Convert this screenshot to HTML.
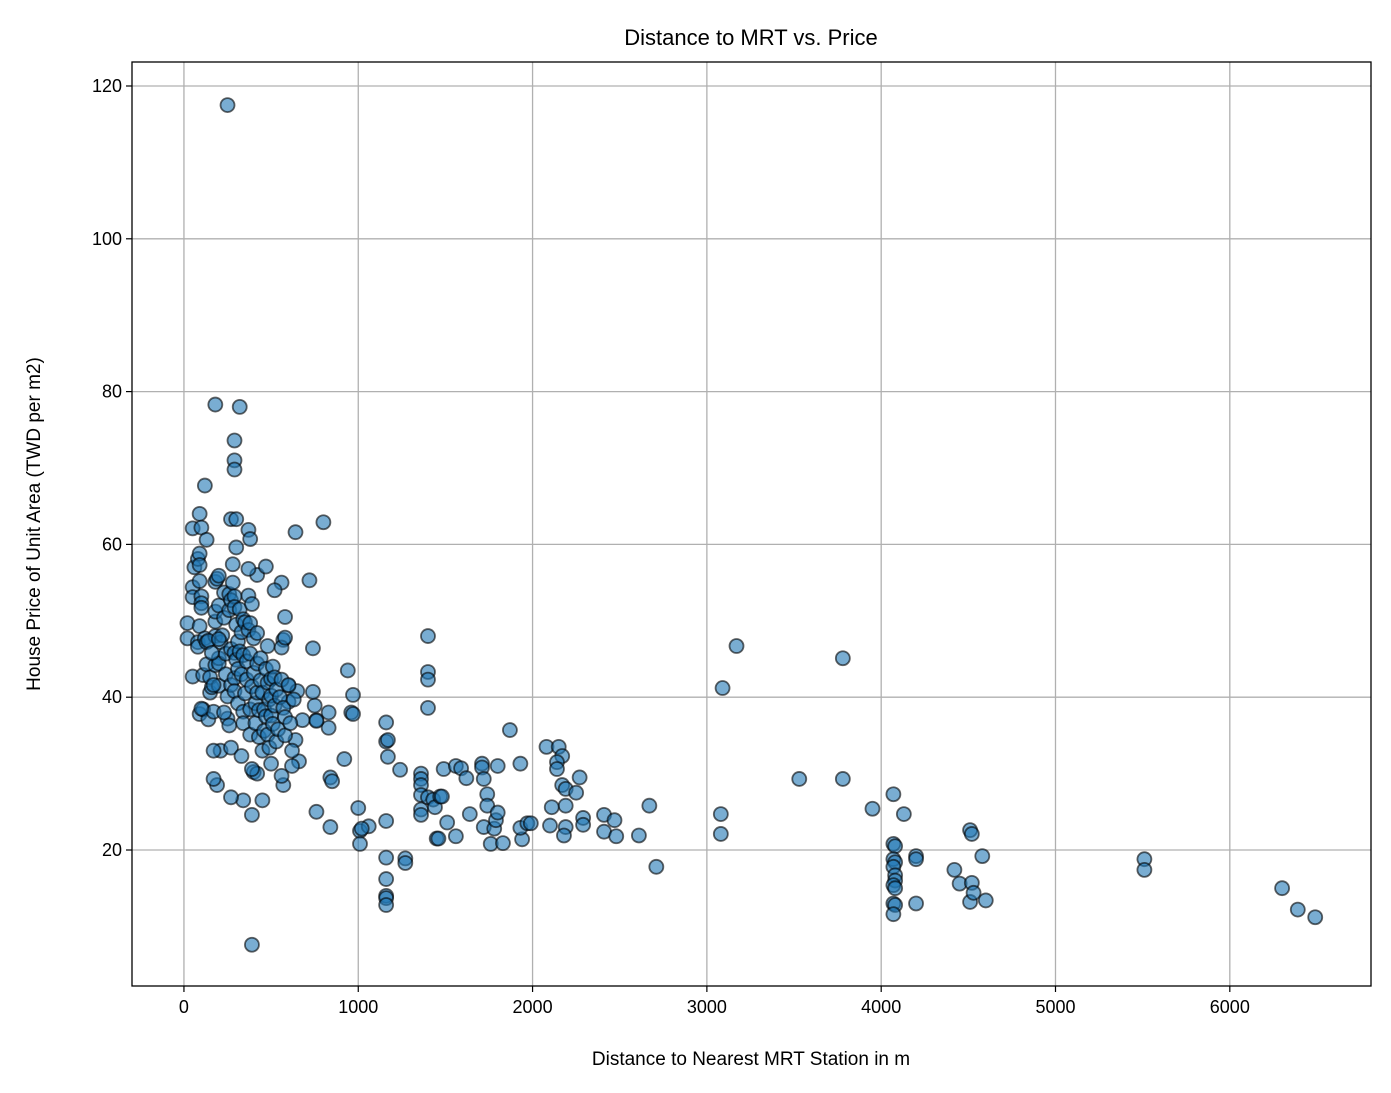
<!DOCTYPE html>
<html><head><meta charset="utf-8"><style>
body{margin:0;background:#fff}
svg{display:block;font-family:"Liberation Sans","DejaVu Sans",sans-serif}
</style></head><body>
<svg id="chart" width="1391" height="1093">
<rect width="1391" height="1093" fill="#fff"/>
<g id="grid"></g>
<g id="pts"></g>
<rect x="132" y="62" width="1239" height="924" fill="none" stroke="#000" stroke-width="1.3"/>
<g id="ticks"></g>
<text x="751" y="45" text-anchor="middle" font-size="22">Distance to MRT vs. Price</text>
<text x="751" y="1065" text-anchor="middle" font-size="19">Distance to Nearest MRT Station in m</text>
<text x="40" y="524" text-anchor="middle" font-size="19" transform="rotate(-90 40 524)">House Price of Unit Area (TWD per m2)</text>
</svg>
<script>
const xTicks=[0,1000,2000,3000,4000,5000,6000];
const yTicks=[20,40,60,80,100,120];
const distances=[250,390,180,320,290,290,290,120,800,640,270,300,90,50,100,370,380,300,130,420,470,560,520,720,580,570,740,1400,1400,1400,1400,940,970,960,970,3170,3780,3090,1870,2080,2150,2170,2140,2140,2170,2190,2270,2250,2190,2110,2190,2180,2100,2290,2290,2410,2470,2410,2480,2610,2670,2710,3080,3080,3530,3780,3950,4070,4130,4070,4080,4070,4080,4070,4080,4080,4070,4080,4070,4080,4070,4200,4200,4200,4420,4450,4510,4520,4520,4510,4530,4580,4600,5510,5510,6300,6390,6490,
1160,1160,1170,1170,1160,1160,1160,1160,1160,1160,1000,1010,1010,1060,1020,1240,1270,1270,1360,1360,1360,1360,1360,1360,1400,1430,1450,1460,1440,1470,1480,1490,1510,1560,1560,1590,1620,1640,1710,1710,1720,1720,1740,1740,1760,1780,1790,1800,1800,1830,1930,1940,1930,1970,1990,830,830,760,760,750,740,760,840,850,840,920,680,660,640,620,620,600,600,650,560,580,570,560,450,390,340,270,190,170,210,170,270,330,400,420,390,450,500,
20,20,50,50,50,60,80,90,90,90,100,100,100,90,80,80,90,110,110,120,130,130,140,150,160,150,170,180,180,180,180,180,190,200,200,200,200,200,210,220,230,230,240,240,250,250,260,260,270,270,270,280,280,290,290,290,290,290,300,300,310,310,310,320,320,330,330,340,340,340,340,350,350,360,360,370,370,370,380,380,380,380,390,390,400,400,410,410,420,420,420,430,430,440,440,450,460,460,470,470,480,480,480,490,490,500,500,500,510,510,520,520,530,530,540,550,560,570,580,580,600,610,630,100,140,160,230,260,170,200];
const prices=[117.5,7.6,78.3,78,73.6,71,69.8,67.7,62.9,61.6,63.3,63.3,64,62.1,62.2,61.9,60.7,59.6,60.6,56,57.1,55,54,55.3,50.5,47.5,46.4,48,43.3,42.3,38.6,43.5,40.3,38,37.8,46.7,45.1,41.2,35.7,33.5,33.5,32.3,31.5,30.6,28.5,28,29.5,27.5,25.8,25.6,23,21.9,23.2,24.2,23.3,24.6,23.9,22.4,21.8,21.9,25.8,17.8,24.7,22.1,29.3,29.3,25.4,27.3,24.7,20.8,20.5,18.8,18.4,17.8,16.7,16,15.4,15,13,12.8,11.6,19.2,18.8,13,17.4,15.6,22.6,22.1,15.7,13.2,14.4,19.2,13.4,18.8,17.4,15,12.2,11.2,
36.7,34.2,34.4,32.2,23.8,19,16.2,14,13.7,12.8,25.5,22.5,20.8,23.1,22.8,30.5,18.9,18.3,30,29.3,28.5,27.2,25.3,24.6,26.9,26.6,21.5,21.5,25.6,27,27,30.6,23.6,31,21.8,30.7,29.4,24.7,31.3,30.8,29.3,23,27.3,25.8,20.8,22.8,23.9,24.9,31,20.9,31.3,21.4,22.9,23.5,23.5,36,38,37,36.9,38.9,40.7,25,29.5,29,23,31.9,37,31.6,34.4,33,31,41.5,39.4,40.8,46.5,47.8,28.5,29.7,26.5,24.6,26.5,26.9,28.5,29.3,33,33,33.4,32.3,30.2,30,30.6,33,31.3,
49.7,47.7,42.7,54.4,53.1,57,58.1,58.8,57.3,55.2,53.2,52.3,51.7,49.3,47.2,46.6,37.8,38.4,42.9,47.7,47.2,44.3,37.1,40.6,41.3,42.6,38.1,44.2,48,49.9,51.2,55.1,55.5,55.9,52,45.1,44.4,41.5,47.2,48.1,50.4,53.7,45.7,43,40.1,37.2,53.5,51.4,52.7,46.3,41.6,57.4,55,53.2,51.8,45.8,42.5,40.8,49.5,44.9,47.3,43.7,39.2,51.5,46,48.5,43,50.2,45.5,38.1,36.6,49.8,40.5,44.7,42.3,56.8,53.3,48.8,49.7,45.7,38.4,35.1,52.2,41.4,43.2,47.7,39.2,36.6,48.4,44.4,40.6,38.3,34.8,45.1,42.2,40.6,38.4,35.6,43.7,37.5,46.7,41.9,35.1,39.7,33.4,42.4,40.2,37.6,44,36.5,42.6,38.9,41,34.2,35.8,40,42.3,38.6,37.4,35,41.6,36.6,39.7,38.5,47.4,45.8,38,36.3,41.6,47.6];
const X0=132,X1=1371,Y0=62,Y1=986;
const xMin=-298,xMax=6810,yMin=2.2,yMax=123.14;
const sx=v=>X0+(v-xMin)/(xMax-xMin)*(X1-X0);
const sy=v=>Y1-(v-yMin)/(yMax-yMin)*(Y1-Y0);
const NS="http://www.w3.org/2000/svg";
const grid=document.getElementById('grid'),ticks=document.getElementById('ticks'),pts=document.getElementById('pts');
function mk(tag,attrs,parent){const e=document.createElementNS(NS,tag);for(const k in attrs)e.setAttribute(k,attrs[k]);parent.appendChild(e);return e;}
xTicks.forEach(t=>{const x=sx(t);
 const g=mk('line',{x1:x,x2:x,y1:Y0,y2:Y1,stroke:'#b0b0b0','stroke-width':1.3},grid);
 
 
 mk('line',{x1:x,x2:x,y1:Y1,y2:Y1+6,stroke:'#000','stroke-width':1.2},ticks);
 const tx=mk('text',{x:x,y:Y1+27,'text-anchor':'middle','font-size':18},ticks);tx.textContent=t;
 
 
});
yTicks.forEach(t=>{const y=sy(t);
 const g=mk('line',{x1:X0,x2:X1,y1:y,y2:y,stroke:'#b0b0b0','stroke-width':1.3},grid);
 
 
 mk('line',{x1:X0-6,x2:X0,y1:y,y2:y,stroke:'#000','stroke-width':1.2},ticks);
 const tx=mk('text',{x:X0-10,y:y+6,'text-anchor':'end','font-size':18},ticks);tx.textContent=t;
 
 
});
distances.forEach((d,i)=>{
 const c=mk('circle',{cx:sx(d),cy:sy(prices[i]),r:7,fill:'rgba(31,119,180,0.6)',stroke:'rgba(0,0,0,0.6)','stroke-width':1.8},pts);
 
 
});
</script>
</body></html>
